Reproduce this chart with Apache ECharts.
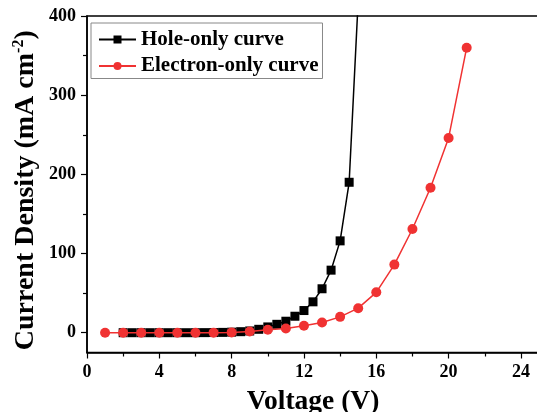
<!DOCTYPE html>
<html>
<head>
<meta charset="utf-8">
<script src="https://cdn.jsdelivr.net/npm/echarts@6/dist/echarts.min.js"></script>
<style>html,body{margin:0;padding:0;background:#fff;overflow:hidden;}#c{width:537px;height:412px;}</style>
</head>
<body>
<div id="c"></div>
<script>
const holeX = [2,2.5,3,3.5,4,4.5,5,5.5,6,6.5,7,7.5,8,8.5,9,9.5,10,10.5,11,11.5,12,12.5,13,13.5,14,14.5,15];
const holeY = [0,0,0,0,0,0,0,0,0,0.1,0.2,0.4,0.7,1.3,2.2,4.3,7.3,10.6,14.5,20.8,28,39,55.5,79,116,190,420];
const elecX = [1,2,3,4,5,6,7,8,9,10,11,12,13,14,15,16,17,18,19,20,21];
const elecY = [0,0,0,0,0,0,0.1,0.4,1.5,3.8,5.3,8.8,13,20,31,51,86,131,183,246,360];
const xTicks = [0,4,8,12,16,20,24];
const xMinorTicks = [2,6,10,14,18,22];
const yTicks = [0,100,200,300,400];
const yMinorTicks = [50,150,250,350];

const FF = "'Liberation Serif','Times New Roman',serif";
const chart = echarts.init(document.getElementById('c'), null, {renderer:'canvas'});
const baseX = {type:'value', min:0, max:25, interval:1};
const baseY = {type:'value', min:-25, max:400, interval:25};
chart.setOption({
  animation:false,
  backgroundColor:'#fff',
  grid:{left:87, right:-2, top:16, bottom:59.5, outerBoundsMode:'none', containLabel:false,
    show:true, borderColor:'#000', borderWidth:1.5, backgroundColor:'transparent'},
  legend:{
    orient:'vertical', left:91, top:23,
    padding:[6,4,2,7], itemGap:5.5,
    itemWidth:37, itemHeight:10,
    borderColor:'#888', borderWidth:1,
    textStyle:{fontFamily:FF, fontWeight:'bold', fontSize:21, color:'#000'},
    data:['Hole-only curve','Electron-only curve']
  },
  xAxis:[{
    ...baseX,
    axisLine:{show:true, onZero:false, lineStyle:{color:'#000', width:1.5}},
    axisTick:{show:true, inside:false, length:6, lineStyle:{color:'#000', width:1.2}, customValues:xTicks},
    splitLine:{show:false},
    axisLabel:{margin:11, fontFamily:FF, fontWeight:'bold', fontSize:18, color:'#000',
      customValues:xTicks, formatter:v=>String(v)},
    name:'Voltage (V)', nameLocation:'middle', nameGap:35, nameMoveOverlap:false,
    nameTextStyle:{fontFamily:FF, fontWeight:'bold', fontSize:27.5, color:'#000'}
  },{
    ...baseX, position:'bottom',
    axisLine:{show:false, onZero:false},
    axisTick:{show:true, inside:false, length:4, lineStyle:{color:'#000', width:1.2}, customValues:xMinorTicks},
    axisLabel:{show:false}, splitLine:{show:false}
  }],
  yAxis:[{
    ...baseY,
    axisLine:{show:true, onZero:false, lineStyle:{color:'#000', width:1.5}},
    axisTick:{show:true, inside:false, length:6, lineStyle:{color:'#000', width:1.2}, customValues:yTicks},
    splitLine:{show:false},
    axisLabel:{margin:11, fontFamily:FF, fontWeight:'bold', fontSize:18, color:'#000',
      customValues:yTicks, formatter:v=>String(v)},
    name:'{a|Current Density (mA cm}{s|-2}{a|)}', nameLocation:'middle', nameGap:46, nameRotate:90,
    nameMoveOverlap:false,
    nameTextStyle:{padding:[0,12,0,0],
      rich:{
        a:{fontFamily:FF, fontWeight:'bold', fontSize:28, color:'#000', lineHeight:30},
        s:{fontFamily:FF, fontWeight:'bold', fontSize:16, color:'#000', verticalAlign:'top', lineHeight:30, padding:[0,0,16,0]}
      }}
  },{
    ...baseY, position:'left',
    axisLine:{show:false, onZero:false},
    axisTick:{show:true, inside:false, length:4, lineStyle:{color:'#000', width:1.2}, customValues:yMinorTicks},
    axisLabel:{show:false}, splitLine:{show:false}
  }],
  series:[
    {
      name:'Hole-only curve', type:'line', clip:true,
      data: holeX.map((x,i)=>[x, holeY[i]]),
      symbol:'rect', symbolSize:9,
      lineStyle:{color:'#000', width:1.5},
      itemStyle:{color:'#000'},
      z:3
    },
    {
      name:'Electron-only curve', type:'line', clip:true,
      data: elecX.map((x,i)=>[x, elecY[i]]),
      symbol:'circle', symbolSize:10,
      lineStyle:{color:'#f03232', width:1.5},
      itemStyle:{color:'#f03232'},
      z:4
    }
  ]
});
</script>
</body>
</html>
